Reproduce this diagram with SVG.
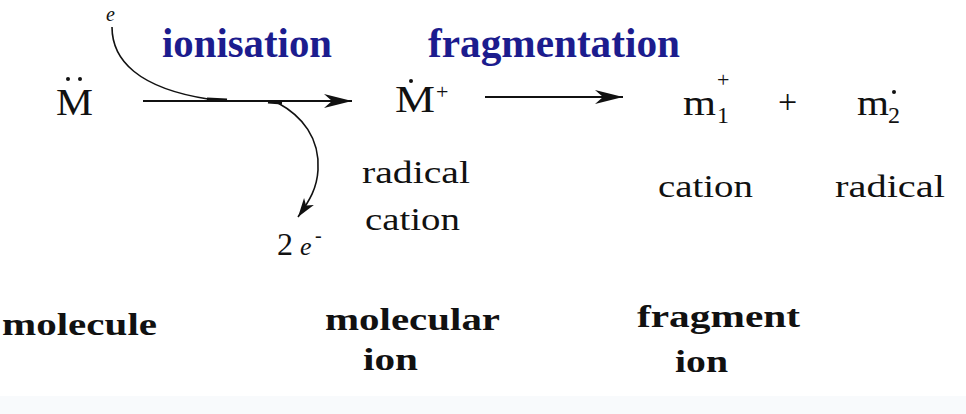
<svg xmlns="http://www.w3.org/2000/svg" width="966" height="414" viewBox="0 0 966 414">
<defs>
<style>
.t{font-family:"Liberation Serif","DejaVu Serif","Times New Roman",serif;fill:#111}
.ti{font-family:"Liberation Serif","DejaVu Serif","Times New Roman",serif;font-weight:bold;fill:#1c1c8e}
.b{font-family:"Liberation Serif","DejaVu Serif","Times New Roman",serif;font-weight:bold;fill:#111}
.ln{fill:none;stroke:#111;stroke-width:2}
.cv{fill:none;stroke:#111;stroke-width:1.6}
</style>
<marker id="ah" markerWidth="32" markerHeight="16" refX="29" refY="8" orient="auto" markerUnits="userSpaceOnUse">
<path d="M1,1 L29,8 L1,15 L9,8 Z" fill="#111"/>
</marker>
<marker id="ahs" markerWidth="22" markerHeight="14" refX="20" refY="7" orient="auto" markerUnits="userSpaceOnUse">
<path d="M1,1 L20,7 L1,13 L6,7 Z" fill="#111"/>
</marker>
</defs>
<rect x="0" y="0" width="966" height="414" fill="#ffffff"/>
<rect x="0" y="396" width="966" height="18" fill="#f8fafc"/>

<g id="connectors">
<path class="ln" d="M143,101 L352,101" marker-end="url(#ah)"/>
<path class="cv" d="M112,27 C112,60 138,88 208,99"/>
<path d="M207,99 L227,100" stroke="#111" stroke-width="3" fill="none"/>
<path d="M268,102 L282,103" stroke="#111" stroke-width="3" fill="none"/>
<path class="cv" d="M278,103 C302,116 320,138 318,170 C317,188 310,200 298,217" marker-end="url(#ahs)"/>
<path class="ln" d="M485,97 L623,97" marker-end="url(#ah)"/>
</g>

<g id="electron-in">
<text class="t" x="106" y="21" font-size="20" font-style="italic">e</text>
</g>

<g id="label-ionisation">
<text class="ti" x="162" y="57" font-size="42" textLength="170" lengthAdjust="spacingAndGlyphs">ionisation</text>
</g>
<g id="label-fragmentation">
<text class="ti" x="428" y="57" font-size="42" textLength="252" lengthAdjust="spacingAndGlyphs">fragmentation</text>
</g>

<g id="molecule-M">
<text class="t" x="56" y="115" font-size="38" textLength="37" lengthAdjust="spacingAndGlyphs">M</text>
<circle cx="68" cy="79" r="2" fill="#111"/>
<circle cx="80" cy="79" r="2" fill="#111"/>
</g>

<g id="molecular-ion">
<text class="t" x="395" y="112" font-size="38" textLength="40" lengthAdjust="spacingAndGlyphs">M</text>
<circle cx="411" cy="81" r="2" fill="#111"/>
<text class="t" x="436" y="99" font-size="22">+</text>
<text class="t" x="362" y="183" font-size="32" textLength="108" lengthAdjust="spacingAndGlyphs">radical</text>
<text class="t" x="365" y="230" font-size="32" textLength="95" lengthAdjust="spacingAndGlyphs">cation</text>
</g>

<g id="electrons-out">
<text class="t" x="277" y="255" font-size="32">2</text>
<text class="t" x="300" y="255" font-size="26" font-style="italic">e</text>
<text class="t" x="315" y="242" font-size="20">-</text>
</g>

<g id="fragment-m1">
<text class="t" x="683" y="115" font-size="36" textLength="33" lengthAdjust="spacingAndGlyphs">m</text>
<text class="t" x="717" y="123" font-size="24">1</text>
<text class="t" x="717" y="87" font-size="22">+</text>
<text class="t" x="658" y="197" font-size="32" textLength="95" lengthAdjust="spacingAndGlyphs">cation</text>
</g>

<g id="plus">
<text class="t" x="778" y="113" font-size="34">+</text>
</g>

<g id="fragment-m2">
<text class="t" x="857" y="115" font-size="36" textLength="32" lengthAdjust="spacingAndGlyphs">m</text>
<text class="t" x="888" y="123" font-size="24">2</text>
<circle cx="894" cy="92" r="2" fill="#111"/>
<text class="t" x="835" y="197" font-size="32" textLength="110" lengthAdjust="spacingAndGlyphs">radical</text>
</g>

<g id="label-molecule">
<text class="b" x="2" y="335" font-size="32" textLength="155" lengthAdjust="spacingAndGlyphs">molecule</text>
</g>
<g id="label-molecular-ion">
<text class="b" x="325" y="330" font-size="32" textLength="175" lengthAdjust="spacingAndGlyphs">molecular</text>
<text class="b" x="363" y="370" font-size="32" textLength="55" lengthAdjust="spacingAndGlyphs">ion</text>
</g>
<g id="label-fragment-ion">
<text class="b" x="637" y="327" font-size="32" textLength="163" lengthAdjust="spacingAndGlyphs">fragment</text>
<text class="b" x="675" y="372" font-size="32" textLength="53" lengthAdjust="spacingAndGlyphs">ion</text>
</g>
</svg>
